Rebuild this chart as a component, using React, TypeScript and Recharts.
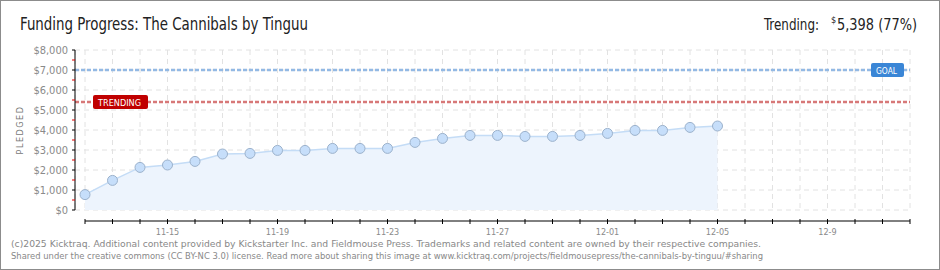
import React from 'react';
import { ComposedChart, Area, XAxis, YAxis, CartesianGrid, ReferenceLine } from 'recharts';

const dates = [
  '11-12', '11-13', '11-14', '11-15', '11-16', '11-17', '11-18', '11-19',
  '11-20', '11-21', '11-22', '11-23', '11-24', '11-25', '11-26', '11-27',
  '11-28', '11-29', '11-30', '12-01', '12-02', '12-03', '12-04', '12-05',
  '12-06', '12-07', '12-08', '12-9', '12-10', '12-11', '12-12',
];
const pledged = [
  770, 1480, 2130, 2250, 2430, 2800, 2830, 2980, 2980, 3080, 3080, 3080,
  3380, 3580, 3730, 3730, 3680, 3680, 3730, 3830, 3980, 3980, 4130, 4200,
];
const tickLabels = ['11-15', '11-19', '11-23', '11-27', '12-01', '12-05', '12-9'];
const yTicks = [0, 500, 1000, 1500, 2000, 2500, 3000, 3500, 4000, 4500, 5000, 5500, 6000, 6500, 7000, 7500, 8000];
const yGrid = [0, 1000, 2000, 3000, 4000, 5000, 6000, 7000, 8000];
const goal = 7000;
const trending = 5398;

const data = dates.map((d, i) => ({ date: d, pledged: i < pledged.length ? pledged[i] : null }));

const labelFont = '"DejaVu Sans Condensed", "DejaVu Sans", sans-serif';

const YTick = (props: any) => {
  const { x, y, payload } = props;
  const major = payload.value % 1000 === 0;
  return (
    <g>
      <line x1={x - 3} x2={x} y1={y} y2={y} stroke={major ? '#000' : '#e00000'} strokeWidth={1} />
      {major && (
        <text x={x - 7} y={y + 4} textAnchor="end" fontSize={11} fontFamily={labelFont} fill="#8a8a8a">
          ${payload.value.toLocaleString('en-US')}
        </text>
      )}
    </g>
  );
};

const XTick = (props: any) => {
  const { x, y, payload, index } = props;
  const ay = y + 11;
  return (
    <g>
      <line x1={x} x2={x} y1={ay - 2} y2={ay + 3} stroke="#000" strokeWidth={1} />
      {index > 0 && <line x1={x - 27.5} x2={x} y1={ay} y2={ay} stroke="#000" strokeWidth={1} />}
      {tickLabels.includes(payload.value) && (
        <text x={x} y={ay + 14} textAnchor="middle" fontSize={9} fontFamily={labelFont} fill="#8a8a8a">
          {payload.value}
        </text>
      )}
    </g>
  );
};

const TagLabel = (props: any) => {
  const { viewBox, text, bg, x0, w } = props;
  const y = viewBox.y;
  return (
    <g>
      <rect x={x0} y={y - 7} width={w} height={14} rx={2} fill={bg} />
      <text x={x0 + 5} y={y + 4} fontSize={9.5} fontFamily={labelFont} fill="#fff" textLength={w - 12} lengthAdjust="spacingAndGlyphs">
        {text}
      </text>
    </g>
  );
};

export default function App() {
  return (
    <div style={{ position: 'fixed', left: 0, top: 0, width: 940, height: 270, boxSizing: 'border-box', border: '1px solid #8c8c8c', background: '#fff' }}>
      <div style={{ position: 'absolute', left: -1, top: -1 }}>
        <ComposedChart width={940} height={270} data={data} margin={{ top: 50, right: 30, bottom: 0, left: 0 }}>
          <CartesianGrid stroke="#e2e2e2" strokeDasharray="5 4" horizontalValues={yGrid} />
          <XAxis
            dataKey="date"
            scale="point"
            interval={0}
            padding={{ left: 10, right: 0 }}
            axisLine={false}
            tickLine={false}
            tickSize={0}
            tickMargin={0}
            height={60}
            tick={<XTick />}
          />
          <YAxis
            domain={[0, 8000]}
            ticks={yTicks}
            interval={0}
            width={75}
            axisLine={{ stroke: '#000' }}
            tickLine={false}
            tickSize={0}
            tickMargin={0}
            tick={<YTick />}
          />
          <Area
            type="linear"
            dataKey="pledged"
            stroke="#c4dcf6"
            strokeWidth={1.5}
            fill="#edf4fd"
            fillOpacity={1}
            dot={{ r: 5, fill: '#c6defa', stroke: '#9cb2cc', strokeWidth: 1 }}
            isAnimationActive={false}
          />
          <ReferenceLine
            y={goal}
            stroke="#93b9e4"
            strokeWidth={2.5}
            strokeDasharray="4 2"
            label={<TagLabel text="GOAL" bg="#3a86d6" x0={871} w={33} />}
          />
          <ReferenceLine
            y={trending}
            stroke="#d77878"
            strokeWidth={2.5}
            strokeDasharray="4 2"
            label={<TagLabel text="TRENDING" bg="#c00000" x0={93} w={55} />}
          />
        </ComposedChart>
      </div>
      <svg width={940} height={270} style={{ position: 'absolute', left: -1, top: -1, pointerEvents: 'none' }}>
        <text x={20} y={30} fontSize={17} fontFamily={labelFont} fill="#222" textLength={288} lengthAdjust="spacingAndGlyphs">
          Funding Progress: The Cannibals by Tinguu
        </text>
        <text x={764} y={30} fontSize={16} fontFamily={labelFont} fill="#222" textLength={55} lengthAdjust="spacingAndGlyphs">
          Trending:
        </text>
        <text x={831} y={23} fontSize={9} fontFamily={labelFont} fill="#222">
          $
        </text>
        <text x={917} y={30} textAnchor="end" fontSize={16} fontFamily={labelFont} fill="#222" textLength={80} lengthAdjust="spacingAndGlyphs">
          5,398 (77%)
        </text>
        <text x={0} y={0} transform="translate(23,130) rotate(-90)" textAnchor="middle" fontSize={9} fontFamily={labelFont} fill="#777" letterSpacing={1.5}>
          PLEDGED
        </text>
        <text x={11} y={247} fontSize={9.5} fontFamily='"DejaVu Sans", Verdana, sans-serif' fill="#888" textLength={750} lengthAdjust="spacingAndGlyphs">
          (c)2025 Kicktraq. Additional content provided by Kickstarter Inc. and Fieldmouse Press. Trademarks and related content are owned by their respective companies.
        </text>
        <text x={11} y={259} fontSize={9.5} fontFamily='"DejaVu Sans", Verdana, sans-serif' fill="#888" textLength={752} lengthAdjust="spacingAndGlyphs">
          Shared under the creative commons (CC BY-NC 3.0) license. Read more about sharing this image at www.kicktraq.com/projects/fieldmousepress/the-cannibals-by-tinguu/#sharing
        </text>
      </svg>
    </div>
  );
}
